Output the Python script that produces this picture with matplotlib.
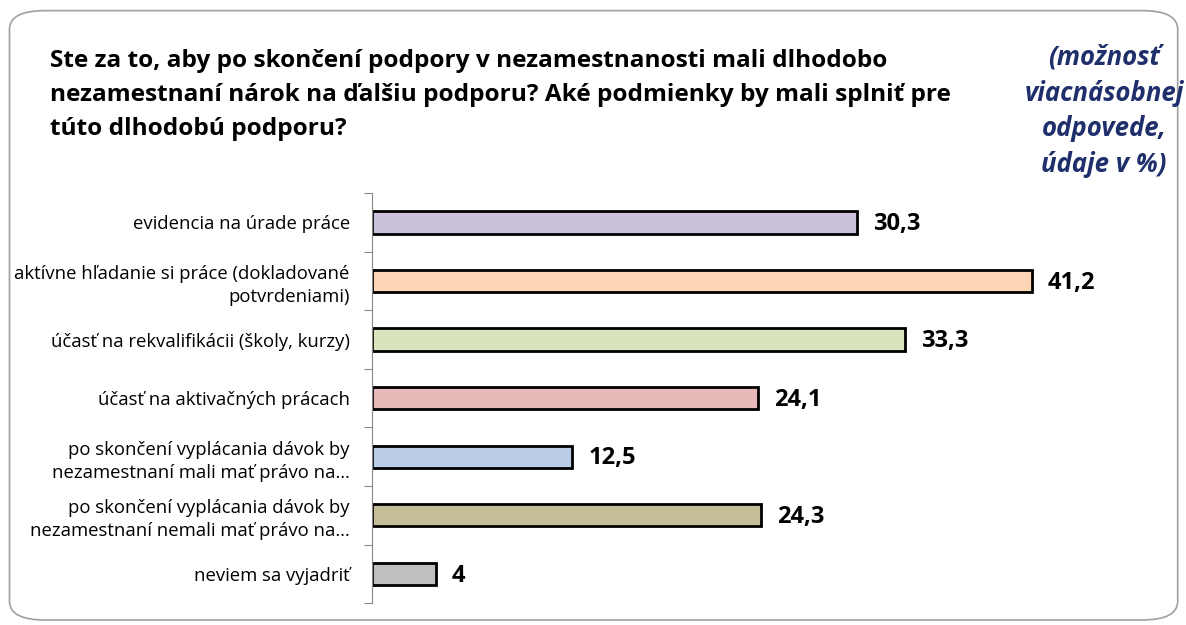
import matplotlib.pyplot as plt
from matplotlib.patches import FancyBboxPatch

categories = [
    'evidencia na úrade práce',
    'aktívne hľadanie si práce (dokladované\npotvrdeniami)',
    'účasť na rekvalifikácii (školy, kurzy)',
    'účasť na aktivačných prácach',
    'po skončení vyplácania dávok by\nnezamestnaní mali mať právo na…',
    'po skončení vyplácania dávok by\nnezamestnaní nemali mať právo na…',
    'neviem sa vyjadriť',
]
values = [30.3, 41.2, 33.3, 24.1, 12.5, 24.3, 4]
value_labels = ['30,3', '41,2', '33,3', '24,1', '12,5', '24,3', '4']
colors = ['#CCC1DA', '#FCD5B5', '#D7E4BD', '#E6B9B8', '#B9CDE5', '#C4BD97', '#BFBFBF']

title = ('Ste za to, aby po skončení podpory v nezamestnanosti mali dlhodobo\n'
         'nezamestnaní nárok na ďalšiu podporu? Aké podmienky by mali splniť pre\n'
         'túto dlhodobú podporu?')
note = '(možnosť\nviacnásobnej\nodpovede,\núdaje v %)'

plt.rcParams['font.family'] = ['Open Sans', 'DejaVu Sans']

fig = plt.figure(figsize=(11.86, 6.25), dpi=100)
frame = FancyBboxPatch((0.008, 0.008), 0.985, 0.975, boxstyle='round,pad=0,rounding_size=0.03',
                       transform=fig.transFigure, facecolor='none', edgecolor='#A0A0A0',
                       linewidth=1.2, zorder=-1)
fig.patches.append(frame)

ax = fig.add_axes([0.3137, 0.035, 0.675, 0.656])
ax.patch.set_alpha(0)
pos = list(range(len(categories)))
ax.barh(pos, values, height=0.38, color=colors, edgecolor='black', linewidth=2)
for p, v, lab in zip(pos, values, value_labels):
    ax.text(v + 1.0, p + 0.03, lab, va='center', ha='left', fontsize=17, fontweight='bold')

ax.set_xlim(0, 50)
ax.set_ylim(len(categories) - 0.5, -0.5)
ax.set_yticks([p - 0.5 for p in pos] + [len(categories) - 0.5])
ax.set_yticklabels([])
ax.set_yticks(pos, minor=True)
ax.set_yticklabels(categories, minor=True, fontsize=13.3, linespacing=1.35)
ax.tick_params(axis='y', which='minor', length=0, pad=16)
ax.tick_params(axis='y', which='major', length=6, color='#888888')
ax.set_xticks([])
for s in ['top', 'right', 'bottom']:
    ax.spines[s].set_visible(False)
ax.spines['left'].set_color('#888888')

fig.text(0.042, 0.922, title, ha='left', va='top', fontsize=17.6, fontweight='bold', linespacing=1.55)
fig.text(0.931, 0.93, note, ha='center', va='top', fontsize=18.5, fontweight='bold', style='italic',
         color='#1F2F6B', linespacing=1.42)

fig.savefig('out.png', dpi=100)
